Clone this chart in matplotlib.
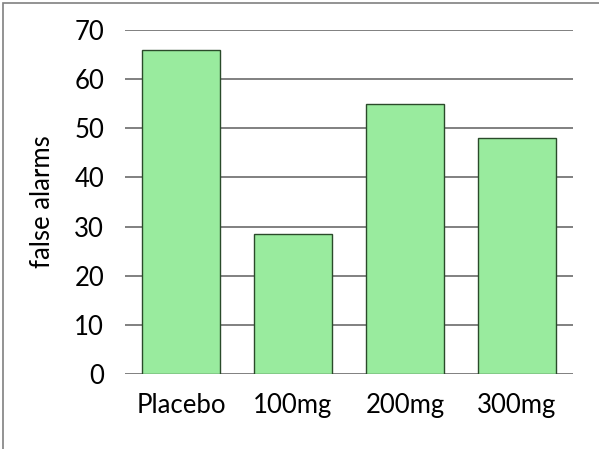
import matplotlib.pyplot as plt
from matplotlib.patches import Rectangle

categories = ['Placebo', '100mg', '200mg', '300mg']
false_alarms = [66, 28.5, 55, 48]
yticks = [0, 10, 20, 30, 40, 50, 60, 70]

plt.rcParams['font.family'] = ['Lato', 'DejaVu Sans']

fig = plt.figure(figsize=(5.99, 4.49), dpi=100)
ax = fig.add_axes([125 / 599, 1 - 374 / 449, 448 / 599, 344 / 449])

x = range(len(categories))
ax.bar(x, false_alarms, width=0.705, color='#99eb9e', edgecolor='#2a4a2a',
       linewidth=1, zorder=3)

ax.set_xlim(-0.5, len(categories) - 0.5)
ax.set_ylim(0, 70)
ax.set_yticks(yticks)
ax.set_xticks(list(x))
ax.set_xticklabels(categories)
ax.tick_params(axis='both', length=0, labelsize=18.5)
ax.tick_params(axis='y', pad=15)
ax.tick_params(axis='x', pad=14)
for y in yticks:
    ax.axhline(y, color='#808080', linewidth=1.4, zorder=1)
for s in ax.spines.values():
    s.set_visible(False)
ax.set_ylabel('false alarms', fontsize=18.5, labelpad=14)

fig.patches.append(Rectangle((3 / 599, -0.1), 1.2, 1 - 3 / 449 + 0.1,
                             transform=fig.transFigure, fill=False,
                             edgecolor='#808080', linewidth=1.2))

fig.savefig('out.png', dpi=100)
